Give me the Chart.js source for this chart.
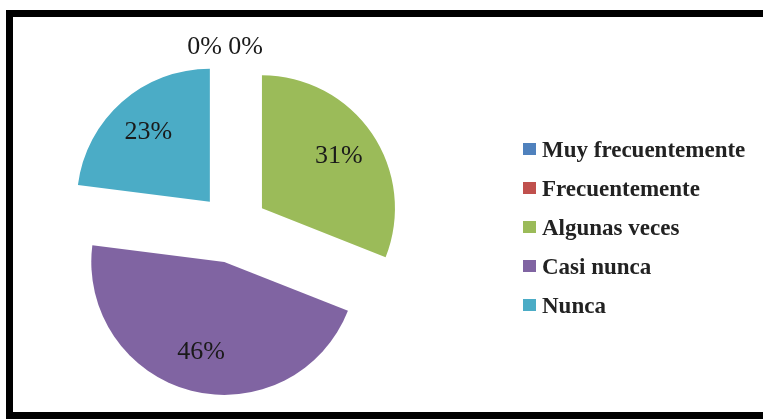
<!DOCTYPE html>
<html>
<head>
<meta charset="utf-8">
<script src="https://cdn.jsdelivr.net/npm/chart.js@4"></script>
<style>
  html, body { margin: 0; padding: 0; background: #fff; overflow: hidden; }
  body { width: 763px; height: 419px; position: relative; }
  .frame {
    position: absolute; left: 6px; top: 10px; width: 820px; height: 409px;
    box-sizing: border-box; border: 7px solid #000;
  }
  #chart { position: absolute; left: 0; top: 0; }
  .legend {
    position: absolute; left: 523px; top: 130px;
    font-family: "Liberation Serif", "Times New Roman", serif;
    font-weight: bold; font-size: 23px; color: #222;
  }
  .legend-item { height: 39px; display: flex; align-items: center; white-space: nowrap; }
  .legend-color { width: 13px; height: 12px; margin-right: 6px; margin-top: -2px; flex: none; }
</style>
</head>
<body>
<div class="frame"></div>
<canvas id="chart" width="763" height="419"></canvas>
<div class="legend" id="legend"></div>
<script>
// Datos del gráfico
const labels = ['Muy frecuentemente', 'Frecuentemente', 'Algunas veces', 'Casi nunca', 'Nunca'];
const porcentajes = [0, 0, 31, 46, 23];
const colores = ['#4F81BD', '#C0504D', '#9BBB59', '#8064A2', '#4BACC6'];

// separación de las porciones (px)
const separacion = 35;

// Desplaza cada porción hacia afuera sin agrandar el radio
// (el "offset" propio de Chart.js engorda las porciones grandes)
const separarPlugin = {
    id: 'separar',
    beforeDatasetsDraw(chart) {
        chart.getDatasetMeta(0).data.forEach(arc => {
            const mid = (arc.startAngle + arc.endAngle) / 2;
            arc._orig = { x: arc.x, y: arc.y };
            arc.x += Math.cos(mid) * separacion;
            arc.y += Math.sin(mid) * separacion;
        });
    },
    afterDatasetsDraw(chart) {
        chart.getDatasetMeta(0).data.forEach(arc => {
            if (arc._orig) {
                arc.x = arc._orig.x;
                arc.y = arc._orig.y;
            }
        });
    }
};

// Etiquetas de porcentaje sobre cada porción
const etiquetasPlugin = {
    id: 'etiquetas',
    afterDatasetsDraw(chart) {
        const ctx = chart.ctx;
        const meta = chart.getDatasetMeta(0);
        const data = chart.data.datasets[0].data;
        const total = data.reduce((a, b) => a + b, 0);
        const ceros = [];
        ctx.save();
        ctx.font = '26px "Liberation Serif", "Times New Roman", serif';
        ctx.fillStyle = '#1a1a1a';
        ctx.textAlign = 'center';
        ctx.textBaseline = 'middle';
        meta.data.forEach((arc, i) => {
            const texto = Math.round(data[i] / total * 100) + '%';
            if (data[i] === 0) {
                ceros.push({ texto, arc });
                return;
            }
            const mid = (arc.startAngle + arc.endAngle) / 2;
            const d = separacion + arc.outerRadius * 0.7;
            ctx.fillText(texto, arc.x + Math.cos(mid) * d, arc.y + Math.sin(mid) * d);
        });
        // porciones vacías: etiquetas fuera del círculo, en fila
        ceros.forEach((c, k) => {
            const mid = c.arc.startAngle;
            const d = c.arc.outerRadius + separacion + 13;
            const x = c.arc.x + Math.cos(mid) * d + (k - (ceros.length - 1) / 2) * 41 - 8;
            ctx.fillText(c.texto, x, c.arc.y + Math.sin(mid) * d);
        });
        ctx.restore();
    }
};

const ctx = document.getElementById('chart').getContext('2d');
const grafico = new Chart(ctx, {
    type: 'pie',
    data: {
        labels: labels,
        datasets: [{
            data: porcentajes,
            backgroundColor: colores,
            borderWidth: 0
        }]
    },
    options: {
        responsive: false,
        animation: false,
        radius: 133,
        layout: { padding: { left: 0, right: 297, top: 37, bottom: 0 } },
        plugins: {
            legend: { display: false },
            tooltip: { enabled: false }
        }
    },
    plugins: [separarPlugin, etiquetasPlugin]
});

// Leyenda
const leyenda = document.getElementById('legend');
labels.forEach((l, i) => {
    const item = document.createElement('div');
    item.className = 'legend-item';
    item.innerHTML = '<span class="legend-color" style="background:' + colores[i] + '"></span>' + l;
    leyenda.appendChild(item);
});
</script>
</body>
</html>
